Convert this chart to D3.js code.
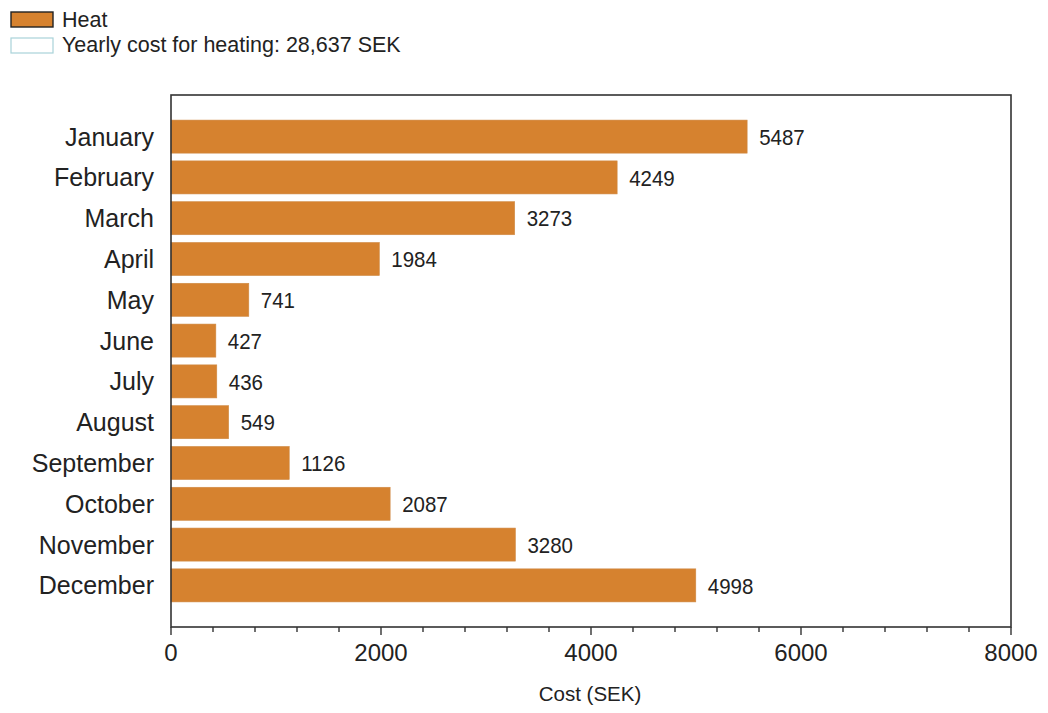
<!DOCTYPE html>
<html><head><meta charset="utf-8">
<script src="https://cdn.jsdelivr.net/npm/d3@7"></script>
<style>body{margin:0;background:#fff}svg{display:block}text{font-family:"Liberation Sans",Arial,sans-serif;fill:#222}</style>
</head><body>
<svg id="c" width="1048" height="713"></svg>
<script>
const months = ["January","February","March","April","May","June","July","August","September","October","November","December"];
const heat = [5487,4249,3273,1984,741,427,436,549,1126,2087,3280,4998];
const xTicks = [0,2000,4000,6000,8000];
const legendLabels = ["Heat","Yearly cost for heating: 28,637 SEK"];
const axisTitle = "Cost (SEK)";

const svg = d3.select("#c");
const L=171, R=1011, T=95, B=627;
const x = d3.scaleLinear().domain([0,8000]).range([L,R]);
const y = d3.scaleBand().domain(months).range([T,B]).paddingInner(0.19).paddingOuter(0.615);
const barColor = "#d6822f";

// bars
svg.append("g").selectAll("rect").data(months).join("rect")
  .attr("x", x(0)).attr("y", d=>y(d))
  .attr("width", (d,i)=>x(heat[i])-x(0)).attr("height", y.bandwidth())
  .attr("fill", barColor).attr("stroke","#cf8a45").attr("stroke-width",0.6);

// value labels (slightly tall glyphs)
svg.append("g").selectAll("text").data(months).join("text")
  .attr("transform",(d,i)=>`translate(${x(heat[i])+12},${y(d)+y.bandwidth()/2}) scale(1,1.12)`)
  .attr("dy","0.36em").attr("font-size",20.5).text((d,i)=>heat[i]);

// month labels
svg.append("g").selectAll("text").data(months).join("text")
  .attr("x",154).attr("y",d=>y(d)+y.bandwidth()/2)
  .attr("dy","0.36em").attr("text-anchor","end").attr("font-size",25).text(d=>d);

// frame
svg.append("rect").attr("x",L).attr("y",T).attr("width",R-L).attr("height",B-T)
  .attr("fill","none").attr("stroke","#333").attr("stroke-width",1.6);

// x axis
const minor = d3.range(0,8001,400);
svg.append("g").selectAll("line").data(minor).join("line")
  .attr("x1",d=>x(d)).attr("x2",d=>x(d)).attr("y1",B).attr("y2",d=>d%2000===0?B+8:B+5)
  .attr("stroke","#333").attr("stroke-width",1.4);
svg.append("g").selectAll("text").data(xTicks).join("text")
  .attr("x",d=>x(d)).attr("y",661).attr("text-anchor","middle").attr("font-size",24).text(d=>d);
svg.append("text").attr("x",590).attr("y",701).attr("text-anchor","middle").attr("font-size",20.5).text(axisTitle);

// legend
svg.append("rect").attr("x",11).attr("y",12).attr("width",42).attr("height",15)
  .attr("fill",barColor).attr("stroke","#222").attr("stroke-width",1.4);
svg.append("rect").attr("x",11).attr("y",38).attr("width",42).attr("height",15)
  .attr("fill","#fff").attr("stroke","#a9d3d9").attr("stroke-width",1.2);
svg.append("text").attr("x",62).attr("y",27).attr("font-size",21.5).text(legendLabels[0]);
svg.append("text").attr("x",62).attr("y",52).attr("font-size",21.5).text(legendLabels[1]);
</script>
</body></html>
